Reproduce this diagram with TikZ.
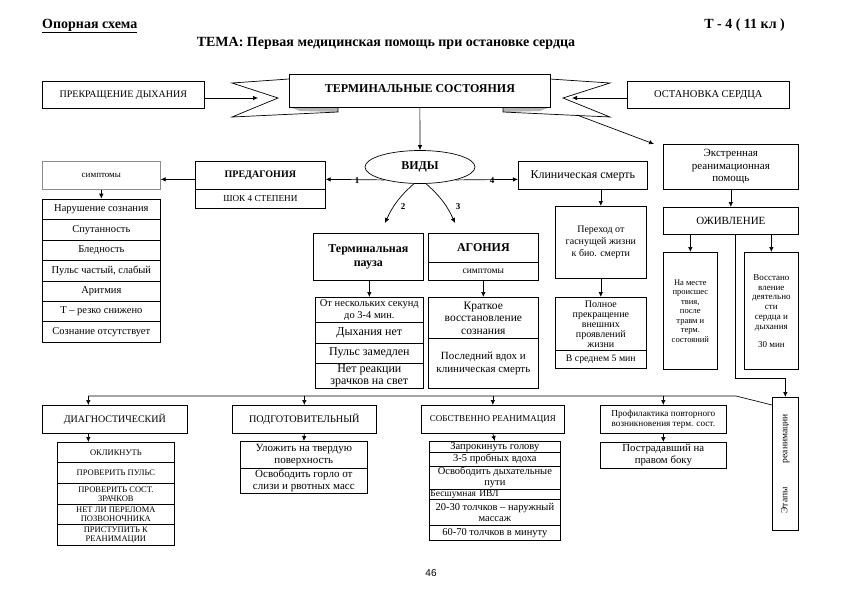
\documentclass[tikz,border=0pt]{standalone}
\usepackage{fontspec}
\setmainfont{Liberation Serif}
\newfontfamily\sansf{Liberation Sans}
\usetikzlibrary{arrows.meta,shapes.geometric}
\tikzset{
 box/.style={draw, line width=0.7pt, inner sep=0.5pt, align=center, anchor=north west, font=\fontsize{10.5}{11.5}\selectfont},
 fsz/.style 2 args={font=\fontsize{#1}{#2}\selectfont},
 bfs/.style 2 args={font=\bfseries\fontsize{#1}{#2}\selectfont},
 faint/.style={draw=black!45},
 arr/.style={-{Latex[length=5pt,width=4.5pt]}, line width=0.7pt},
 ln/.style={line width=0.7pt},
 num/.style={font=\bfseries\fontsize{9}{10}\selectfont, inner sep=0pt},
}
\newcommand{\mybox}[6][]{\node[box,minimum width=#4pt,minimum height=#5pt,#1] (#2) at (#3) {#6};}
\begin{document}
\begin{tikzpicture}[x=1pt,y=-1pt]
\fill[white] (0,0) rectangle (841,595);
\useasboundingbox (0,0) rectangle (841,595);

% header
\node[anchor=base west, bfs={14}{16}, inner sep=0pt] (hdr) at (42,28) {\underline{Опорная схема}};
\node[anchor=base east, bfs={14}{16}, inner sep=0pt] (cls) at (785,28) {Т - 4 ( 11 кл )};
\node[anchor=base, bfs={14}{16}, inner sep=0pt] (tema) at (386,46) {ТЕМА: Первая медицинская помощь при остановке сердца};

% row 1
\mybox[fsz={10}{11}]{presp}{42,81}{162}{27}{ПРЕКРАЩЕНИЕ ДЫХАНИЯ}
\mybox[fsz={10.5}{11}]{ostan}{627,81}{162}{27}{ОСТАНОВКА СЕРДЦА}

% ribbon tails
\fill[gray!60] (289,107) -- (338,108) -- (338,112) -- (300,111) -- cycle;
\draw[ln] (289,79) -- (232,83) -- (278,98) -- (232,117) -- (338,112) -- (338,107);
\fill[gray!60] (550,107) -- (503,108) -- (503,112) -- (540,111) -- cycle;
\draw[ln] (550,79) -- (610,83) -- (563,98) -- (610,117) -- (503,112) -- (503,107);
\node[draw, ln, fill=white, minimum width=261pt, minimum height=33pt, anchor=north west, bfs={12}{14}] (term) at (289,74) {ТЕРМИНАЛЬНЫЕ СОСТОЯНИЯ\rule[-5pt]{0pt}{5pt}};
\coordinate (notchL) at (258,98);
\coordinate (notchR) at (572,98);
\coordinate (tailR) at (577,115);
\draw[arr] (presp.east |- notchL) -- (notchL);
\draw[arr] (ostan.west |- notchR) -- (notchR);

% ekstrennaya
\mybox[fsz={11}{12.5}]{ekstr}{663,144}{135}{45}{Экстренная\\реанимационная\\помощь}
\draw[arr] (tailR) -- ([xshift=-9pt]ekstr.north west);

% vidy
\node[draw, ellipse, ln, minimum width=110pt, minimum height=33pt, bfs={12}{14}] (vidy) at (420,167) {ВИДЫ};
\draw[arr] (term.south) -- (vidy.north);

% predagoniya
\mybox[bfs={10}{12}]{predag}{195,161}{130}{28}{ПРЕДАГОНИЯ}
\mybox[fsz={9.2}{10}]{shok}{195,189}{130}{19}{ШОК 4 СТЕПЕНИ}
\draw[arr] (vidy.200) -- ([yshift=-4pt]predag.east);
\node[num] (n1) at (357,181) {1};

% symptoms list
\mybox[faint, fsz={9}{10}]{sympt}{42,161}{118}{28}{симптомы}
\draw[arr] (sympt.south) -- ++(0,9);
\mybox{s1}{42,199}{118}{20.4}{Нарушение сознания}
\mybox{s2}{42,219.4}{118}{20.4}{Спутанность}
\mybox{s3}{42,239.8}{118}{20.4}{Бледность}
\mybox{s4}{42,260.2}{118}{20.4}{Пульс частый, слабый}
\mybox{s5}{42,280.6}{118}{20.4}{Аритмия}
\mybox{s6}{42,301}{118}{20.4}{Т – резко снижено}
\mybox{s7}{42,321.4}{118}{20.4}{Сознание отсутствует}
\draw[arr] ([yshift=-4pt]predag.west) -- ([yshift=-4pt]sympt.east);

% arrows 2,3,4
\coordinate (a2) at (385,223);
\coordinate (a3) at (455,223);
\draw[arr] (vidy.250) to[bend right=12] (a2);
\draw[arr] (vidy.290) to[bend left=12] (a3);
\node[num] (n2) at (403,207) {2};
\node[num] (n3) at (458,207) {3};
\mybox[fsz={12}{13}]{klin}{518,161}{129}{28}{Клиническая смерть}
\draw[arr] (vidy.340) -- ([yshift=-4pt]klin.west);
\node[num] (n4) at (492,181) {4};

% terminal pause
\mybox[bfs={12}{13.5}]{tpause}{313,233}{110}{47}{Терминальная\\пауза}
\mybox[fsz={10.5}{11.5}]{t1}{315,297}{108}{25}{От нескольких секунд\\до 3-4 мин.}
\mybox[fsz={12}{12}]{t2}{315,322}{108}{21}{Дыхания нет}
\mybox[fsz={12}{12}]{t3}{315,343}{108}{20}{Пульс замедлен}
\mybox[fsz={12}{11.5}]{t4}{315,363}{108}{25}{Нет реакции\\зрачков на свет}
\draw[arr] (tpause.south -| t1.north) -- (t1.north);

% agoniya
\mybox[bfs={12}{13}]{agon}{428,233}{110}{29}{АГОНИЯ}
\mybox[fsz={9.5}{10}]{agsym}{428,262}{110}{18}{симптомы}
\mybox[fsz={11.5}{12.5}]{ag1}{428,297}{110}{41}{Краткое\\восстановление\\сознания}
\mybox[fsz={11}{13}]{ag2}{428,338}{110}{50}{Последний вдох и\\клиническая смерть}
\draw[arr] (agsym.south) -- (ag1.north);

% clinical death chain
\mybox[fsz={10}{12}]{perehod}{555,206}{91}{72}{Переход от\\гаснущей жизни\\к био. смерти}
\mybox[fsz={10}{10}]{poln}{555,297}{91}{53}{Полное\\прекращение\\внешних\\проявлений\\жизни}
\mybox[fsz={9.8}{10}]{sred}{555,350}{91}{18}{В среднем 5 мин}
\draw[arr] (perehod.north |- klin.south) -- (perehod.north);
\draw[arr] (perehod.south) -- (poln.north);

% ozhivlenie
\mybox[fsz={11}{12}]{ozhiv}{663,207}{135}{27}{ОЖИВЛЕНИЕ}
\draw[arr] (ekstr.south) -- (ozhiv.north);
\mybox[fsz={8.5}{9.5}]{nameste}{663,252}{54}{117}{На месте\\происшес\\твия,\\после\\травм и\\терм.\\состояний}
\mybox[fsz={9}{9.8}]{vosst}{744,252}{54}{117}{Восстано\\вление\\деятельно\\сти\\сердца и\\дыхания\\[8pt]30 мин}
\draw[arr] (ozhiv.south -| nameste.north) -- (nameste.north);
\draw[arr] (ozhiv.south -| vosst.north) -- (vosst.north);

% etapy
\mybox[fsz={9.5}{10}]{etapy}{772,397}{26}{133}{\rotatebox{90}{Этапы\hspace{24pt}реанимации}}
\draw[arr] ([xshift=4pt]ozhiv.south) -- ++(0,144) -| (etapy.north);

% bottom row
\mybox[fsz={10}{11}]{diag}{42,405}{145}{28}{ДИАГНОСТИЧЕСКИЙ}
\mybox[fsz={10.2}{11}]{podg}{232,405}{144}{28}{ПОДГОТОВИТЕЛЬНЫЙ}
\mybox[fsz={9}{10}]{sobst}{421,405}{143}{28}{СОБСТВЕННО РЕАНИМАЦИЯ}
\mybox[fsz={9.2}{10.5}]{prof}{600,405}{126}{28}{Профилактика повторного\\возникновения терм. сост.}
\coordinate (bus) at (736,396);
\coordinate (dtop) at ([xshift=-26.5pt]diag.north);
\coordinate (dbot) at ([xshift=-26.5pt]diag.south);
\draw[ln] ([yshift=-8pt]etapy.north west) -- (bus) -- (bus -| dtop);
\draw[arr] (bus -| dtop) -- (dtop);
\draw[arr] (bus -| podg.north) -- (podg.north);
\draw[arr] (bus -| sobst.north) -- (sobst.north);
\draw[arr] (bus -| prof.north) -- (prof.north);

\mybox[fsz={8.5}{9.2}]{d1}{57,442}{117}{20}{ОКЛИКНУТЬ}
\mybox[fsz={8.5}{9.2}]{d2}{57,462}{117}{21}{ПРОВЕРИТЬ ПУЛЬС}
\mybox[fsz={8.5}{9.2}]{d3}{57,483}{117}{21}{ПРОВЕРИТЬ СОСТ.\\ЗРАЧКОВ}
\mybox[fsz={8.5}{9.2}]{d4}{57,504}{117}{20}{НЕТ ЛИ ПЕРЕЛОМА\\ПОЗВОНОЧНИКА}
\mybox[fsz={8.5}{9.2}]{d5}{57,524}{117}{21}{ПРИСТУПИТЬ К\\РЕАНИМАЦИИ}
\draw[arr] (dbot) -- (dbot |- d1.north);

\mybox[fsz={11}{12}]{p1}{240,441}{127}{27}{Уложить на твердую\\поверхность}
\mybox[fsz={11}{12}]{p2}{240,468}{127}{25}{Освободить горло от\\слизи и рвотных масс}
\draw[arr] (podg.south) -- (p1.north);

\mybox[fsz={10.5}{11}]{r1}{429,441}{131}{11}{Запрокинуть голову}
\mybox[fsz={10.5}{11}]{r2}{429,452}{131}{14}{3-5 пробных вдоха}
\mybox[fsz={10.5}{11}]{r3}{429,466}{131}{23}{Освободить дыхательные\\пути}
\mybox[fsz={9.5}{10}, align=left, text width=129pt]{r4}{429,489}{131}{10}{Бесшумная ИВЛ}
\mybox[fsz={10.5}{11.5}]{r5}{429,499}{131}{26}{20-30 толчков – наружный\\массаж}
\mybox[fsz={10.5}{11}]{r6}{429,525}{131}{15}{60-70 толчков в минуту}
\draw[arr] (sobst.south) -- (r1.north);

\mybox[fsz={10.8}{12}]{post}{600,442}{126}{26}{Пострадавший на\\правом боку}
\draw[arr] (prof.south) -- (post.north);

\node[font=\sansf\fontsize{10}{12}\selectfont, inner sep=0pt] (pg) at (431,573) {46};
\end{tikzpicture}
\end{document}
